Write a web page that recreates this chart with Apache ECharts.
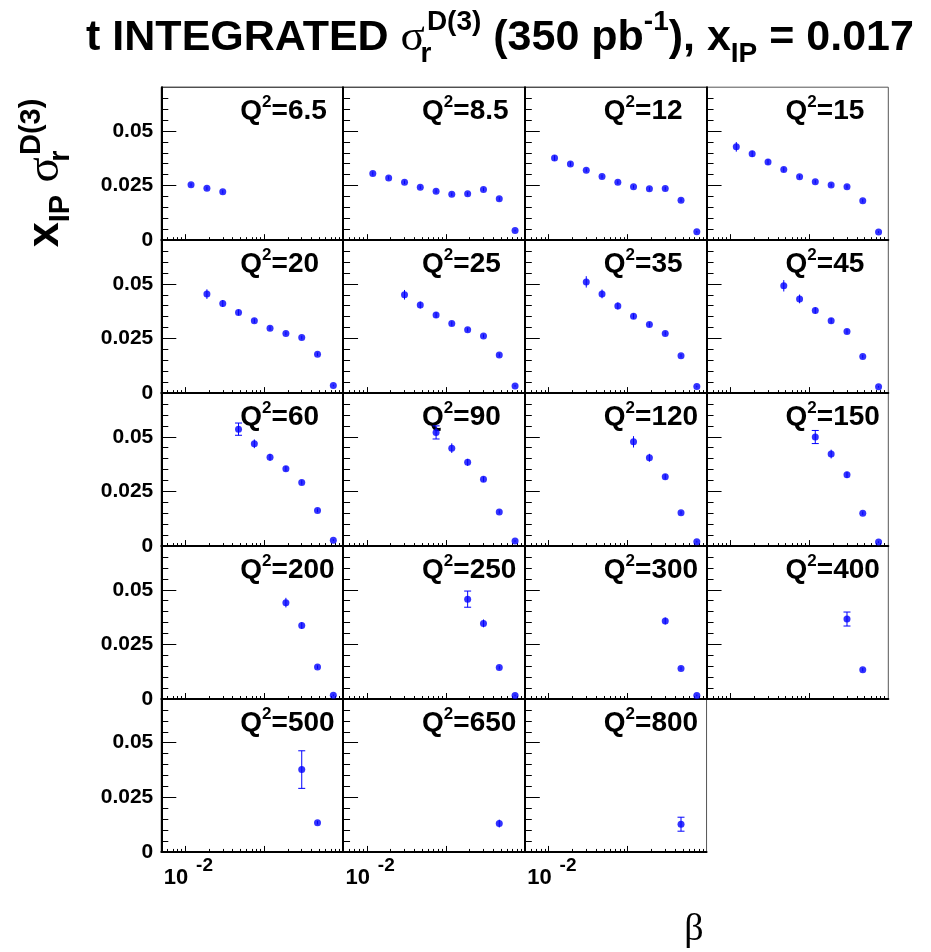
<!DOCTYPE html>
<html><head><meta charset="utf-8">
<script src="https://cdn.jsdelivr.net/npm/echarts@6/dist/echarts.min.js"></script>
<style>html,body{margin:0;padding:0;background:#fff}#c{width:931px;height:952px}</style>
</head><body><div id="c"></div>
<script>
// beta bin centres (x values)
const BETA = [0.0119, 0.0189, 0.0300, 0.0475, 0.0753, 0.119, 0.189, 0.300, 0.475, 0.753];
// Q^2 of each panel and index of the first beta bin that has a point
const Q2_LABELS = ['6.5','8.5','12','15','20','25','35','45','60','90','120','150','200','250','300','400','500','650','800'];
const FIRST_BIN = [0,0,0,0,1,2,2,3,3,4,5,5,6,6,7,7,7,8,8];
// x_IP * sigma_r^D(3) values per panel
const S_6_5 = [0.0253, 0.0237, 0.0221];
const S_8_5 = [0.0305, 0.0285, 0.0265, 0.0242, 0.0224, 0.0210, 0.0212, 0.0232, 0.0189, 0.0044];
const S_12  = [0.0376, 0.0349, 0.0320, 0.0291, 0.0265, 0.0244, 0.0235, 0.0236, 0.0183, 0.0038];
const S_15  = [0.0427, 0.0395, 0.0358, 0.0323, 0.0290, 0.0267, 0.0252, 0.0244, 0.0180, 0.0037];
const S_20  = [0.0453, 0.0410, 0.0369, 0.0331, 0.0297, 0.0273, 0.0254, 0.0178, 0.0035];
const S_25  = [0.0450, 0.0403, 0.0357, 0.0318, 0.0290, 0.0261, 0.0174, 0.0033];
const S_35  = [0.0509, 0.0454, 0.0399, 0.0352, 0.0314, 0.0273, 0.0171, 0.0030];
const S_45  = [0.0491, 0.0431, 0.0378, 0.0331, 0.0282, 0.0167, 0.0029];
const S_60  = [0.0535, 0.0468, 0.0406, 0.0354, 0.0291, 0.0163, 0.0027];
const S_90  = [0.0520, 0.0448, 0.0383, 0.0306, 0.0156, 0.0023];
const S_120 = [0.0477, 0.0404, 0.0317, 0.0152, 0.0020];
const S_150 = [0.0499, 0.0421, 0.0326, 0.0150, 0.0018];
const S_200 = [0.0441, 0.0336, 0.0146, 0.0017];
const S_250 = [0.0457, 0.0346, 0.0144, 0.0016];
const S_300 = [0.0357, 0.0140, 0.0016];
const S_400 = [0.0366, 0.0134];
const S_500 = [0.0377, 0.0134];
const S_650 = [0.0130];
const S_800 = [0.0127];
// total errors per point
const E_6_5 = [0.0008, 0.0008, 0.0008];
const E_8_5 = [0.0009, 0.0008, 0.0008, 0.0008, 0.0008, 0.0008, 0.0008, 0.0008, 0.0008, 0.0004];
const E_12  = [0.0012, 0.0010, 0.0008, 0.0008, 0.0008, 0.0008, 0.0008, 0.0008, 0.0008, 0.0004];
const E_15  = [0.0022, 0.0014, 0.0012, 0.0010, 0.0008, 0.0008, 0.0008, 0.0008, 0.0008, 0.0004];
const E_20  = [0.0022, 0.0016, 0.0013, 0.0010, 0.0009, 0.0008, 0.0008, 0.0008, 0.0004];
const E_25  = [0.0022, 0.0016, 0.0013, 0.0010, 0.0009, 0.0008, 0.0008, 0.0004];
const E_35  = [0.0026, 0.0020, 0.0016, 0.0012, 0.0010, 0.0009, 0.0008, 0.0004];
const E_45  = [0.0026, 0.0020, 0.0014, 0.0012, 0.0010, 0.0008, 0.0004];
const E_60  = [0.0028, 0.0020, 0.0016, 0.0012, 0.0010, 0.0008, 0.0004];
const E_90  = [0.0030, 0.0022, 0.0016, 0.0012, 0.0008, 0.0004];
const E_120 = [0.0026, 0.0018, 0.0012, 0.0008, 0.0004];
const E_150 = [0.0030, 0.0020, 0.0014, 0.0008, 0.0004];
const E_200 = [0.0022, 0.0015, 0.0008, 0.0004];
const E_250 = [0.0037, 0.0018, 0.0008, 0.0004];
const E_300 = [0.0016, 0.0008, 0.0004];
const E_400 = [0.0032, 0.0008];
const E_500 = [0.0086, 0.0008];
const E_650 = [0.0018];
const E_800 = [0.0032];
// axis ticks / labels
const X_MAJOR_TICKS = [0.01, 0.1];
const X_LABEL_TICKS = [0.01];
const X_LABEL_BASE = '10';
const X_LABEL_EXP = '-2';
const X_MINOR_TICKS = [0.006,0.007,0.008,0.009,0.02,0.03,0.04,0.05,0.06,0.07,0.08,0.09,0.2,0.3,0.4,0.5,0.6,0.7,0.8,0.9];
const Y_MAJOR_TICKS = [0, 0.025, 0.05];
const Y_MINOR_TICKS = [0.005,0.01,0.015,0.02,0.03,0.035,0.04,0.045,0.055,0.06,0.065];

const VALUES = [S_6_5,S_8_5,S_12,S_15,S_20,S_25,S_35,S_45,S_60,S_90,S_120,S_150,S_200,S_250,S_300,S_400,S_500,S_650,S_800];
const ERRORS = [E_6_5,E_8_5,E_12,E_15,E_20,E_25,E_35,E_45,E_60,E_90,E_120,E_150,E_200,E_250,E_300,E_400,E_500,E_650,E_800];

const FONT = 'Liberation Sans, Arial, sans-serif';
const SERIF = 'Liberation Serif, Times New Roman, serif';
const COL_X0 = 161.3, COL_W = 181.75, ROW_Y0 = 87.2, ROW_H = 152.95;
const BLUE = '#0000ff';
const CAP_MIN_ERR = 0.0028;

const grids = [], xAxes = [], yAxes = [], series = [], graphics = [];
Q2_LABELS.forEach((q, i) => {
  const row = Math.floor(i / 4), col = i % 4;
  const left = COL_X0 + col * COL_W, top = ROW_Y0 + row * ROW_H;
  const isBottom = (i >= 16);
  grids.push({left: left, top: top, width: COL_W, height: ROW_H, show: true,
    borderColor: col === 3 || i === 18 ? '#555' : '#000', borderWidth: 1, backgroundColor: 'rgba(0,0,0,0)', containLabel: false});
  const xBase = {gridIndex: i, type: 'log', logBase: 10, min: 0.005, max: 1, position: 'bottom',
    splitLine: {show: false}, minorTick: {show: false}};
  xAxes.push(Object.assign({}, xBase, {
    axisLine: {show: true, onZero: false, lineStyle: {color: '#000', width: 2}},
    axisTick: {show: true, inside: true, length: 6, customValues: X_MAJOR_TICKS, lineStyle: {color: '#000', width: 1}},
    axisLabel: {show: isBottom, customValues: X_LABEL_TICKS, margin: 15, fontSize: 22, fontWeight: 'bold',
      fontFamily: FONT, color: '#000', align: 'center', padding: [0, 18, 0, 0], formatter: () => X_LABEL_BASE}
  }));
  xAxes.push(Object.assign({}, xBase, {
    axisLine: {show: false},
    axisTick: {show: true, inside: true, length: 3, customValues: X_MINOR_TICKS, lineStyle: {color: '#000', width: 1}},
    axisLabel: {show: isBottom, customValues: X_LABEL_TICKS, margin: 4, fontSize: 19, fontWeight: 'bold',
      fontFamily: FONT, color: '#000', align: 'left', padding: [0, 0, 0, 11], formatter: () => X_LABEL_EXP}
  }));
  const yBase = {gridIndex: i, type: 'value', min: 0, max: 0.07, position: 'left', splitLine: {show: false}};
  yAxes.push(Object.assign({}, yBase, {
    axisLine: {show: true, onZero: false, lineStyle: {color: '#000', width: 2}},
    axisTick: {show: true, inside: true, length: 15, customValues: Y_MAJOR_TICKS, lineStyle: {color: '#000', width: 1}},
    axisLabel: {show: col === 0, customValues: Y_MAJOR_TICKS, margin: 8, fontSize: 21, fontWeight: 'bold',
      fontFamily: FONT, color: '#000', formatter: v => (v === 0 ? '0' : String(+v.toFixed(3)))}
  }));
  yAxes.push(Object.assign({}, yBase, {
    axisLine: {show: false},
    axisTick: {show: true, inside: true, length: 7, customValues: Y_MINOR_TICKS, lineStyle: {color: '#000', width: 1}},
    axisLabel: {show: false}
  }));
  const vals = VALUES[i], errs = ERRORS[i], first = FIRST_BIN[i];
  series.push({
    type: 'custom', xAxisIndex: 2 * i, yAxisIndex: 2 * i, z: 2, silent: true,
    data: vals.map((v, k) => [BETA[first + k], v - errs[k], v + errs[k], errs[k]]),
    renderItem: (params, api) => {
      const lo = api.coord([api.value(0), api.value(1)]);
      const hi = api.coord([api.value(0), api.value(2)]);
      const st = {stroke: BLUE, lineWidth: 1};
      const kids = [{type: 'line', shape: {x1: lo[0], y1: lo[1], x2: hi[0], y2: hi[1]}, style: st}];
      if (api.value(3) >= CAP_MIN_ERR) {
        kids.push({type: 'line', shape: {x1: lo[0] - 3.5, y1: lo[1], x2: lo[0] + 3.5, y2: lo[1]}, style: st});
        kids.push({type: 'line', shape: {x1: hi[0] - 3.5, y1: hi[1], x2: hi[0] + 3.5, y2: hi[1]}, style: st});
      }
      return {type: 'group', children: kids};
    }
  });
  series.push({
    type: 'scatter', xAxisIndex: 2 * i, yAxisIndex: 2 * i, z: 3, silent: true,
    symbol: 'circle', symbolSize: 7, itemStyle: {color: BLUE},
    data: vals.map((v, k) => [BETA[first + k], v])
  });
  graphics.push({
    type: 'text', x: left + 79, y: top + 24,
    style: {text: '{q|Q}{s|2}{q|=' + q + '}', align: 'left', verticalAlign: 'middle',
      textAlign: 'left', textVerticalAlign: 'middle',
      rich: {
        q: {fontSize: 28, fontWeight: 'bold', fontFamily: FONT, fill: '#000', lineHeight: 34, verticalAlign: 'middle'},
        s: {fontSize: 17, fontWeight: 'bold', fontFamily: FONT, fill: '#000', lineHeight: 17, verticalAlign: 'top'}
      }}
  });
});

const makeRich = (base, sub, lh, slh) => ({
  n: {fontSize: base, fontWeight: 'bold', fontFamily: FONT, fill: '#000', lineHeight: lh, verticalAlign: 'middle'},
  g: {fontSize: base + 2, fontFamily: SERIF, fill: '#000', lineHeight: lh, verticalAlign: 'middle'},
  sb: {fontSize: sub, fontWeight: 'bold', fontFamily: FONT, fill: '#000', lineHeight: slh, verticalAlign: 'bottom'},
  sbr: {fontSize: sub, fontWeight: 'bold', fontFamily: FONT, fill: '#000', lineHeight: slh, verticalAlign: 'bottom', width: 2},
  sp: {fontSize: sub, fontWeight: 'bold', fontFamily: FONT, fill: '#000', lineHeight: slh, verticalAlign: 'top'}
});
// title
graphics.push({
  type: 'text', x: 500, y: 38,
  style: {
    text: '{n|t INTEGRATED }{g|σ}{sbr|r}{sp|D(3)}{n| (350 pb}{sp|-1}{n|), x}{sb|IP}{n| = 0.017}',
    align: 'center', verticalAlign: 'middle', textAlign: 'center', textVerticalAlign: 'middle',
    rich: makeRich(43, 28, 60, 28)
  }
});
// y-axis title
graphics.push({
  type: 'text', x: 46, y: 173, rotation: Math.PI / 2,
  style: {
    text: '{n|x}{sb|IP}{n| }{g|σ}{sbr|r}{sp|D(3)}',
    align: 'center', verticalAlign: 'middle', textAlign: 'center', textVerticalAlign: 'middle',
    rich: makeRich(45, 29, 58, 30)
  }
});
// x-axis title
graphics.push({
  type: 'text', x: 694, y: 930,
  style: {text: 'β', fontSize: 38, fontFamily: SERIF, fill: '#000',
    align: 'center', verticalAlign: 'middle', textAlign: 'center', textVerticalAlign: 'middle'}
});

const chart = echarts.init(document.getElementById('c'), null, {renderer: 'canvas'});
chart.setOption({
  animation: false,
  backgroundColor: '#fff',
  grid: grids, xAxis: xAxes, yAxis: yAxes, series: series, graphic: graphics
});
</script>
</body></html>
